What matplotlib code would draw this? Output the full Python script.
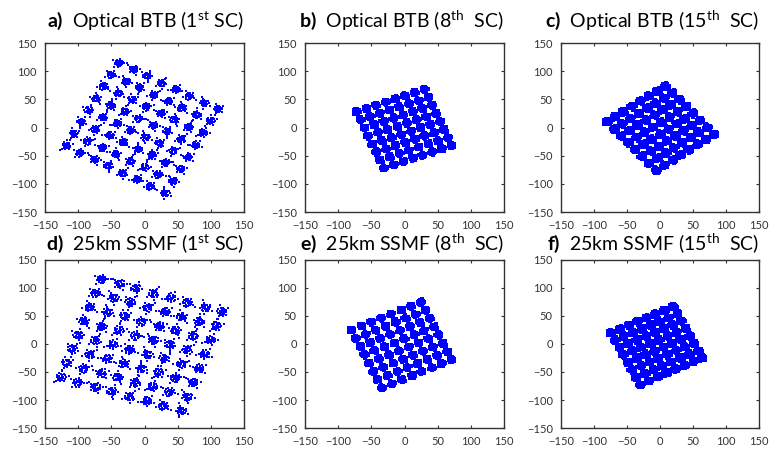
import numpy as np
import matplotlib
matplotlib.use("Agg")
import matplotlib.pyplot as plt

plt.rcParams['font.family'] = ['Lato', 'DejaVu Sans']
plt.rcParams['mathtext.fontset'] = 'custom'
plt.rcParams['mathtext.rm'] = 'Lato'
plt.rcParams['mathtext.bf'] = 'Lato:bold'

# --- panel labels / titles ---
tags = ['a)', 'b)', 'c)', 'd)', 'e)', 'f)']
links = ['Optical BTB', 'Optical BTB', 'Optical BTB',
         '25km SSMF', '25km SSMF', '25km SSMF']
sc_num = ['1', '8', '15', '1', '8', '15']
sc_sup = ['st', 'th', 'th', 'st', 'th', 'th']
sc_gap = [' ', '  ', '  ', ' ', '  ', '  ']

# --- 64-QAM constellation ---
qam_levels = [-7, -5, -3, -1, 1, 3, 5, 7]
# centres of the three outer corner clusters (left, top, right) per panel
left_corner = [(-118, -33), (-72, 28), (-80, 10), (-126, -60), (-80, 25), (-74, 20)]
top_corner = [(-38, 115), (30, 68), (8, 74), (-64, 116), (25, 75), (20, 67)]
right_corner = [(111, 32), (71, -32), (82, -12), (117, 57), (71, -28), (64, -25)]
cloud_radius = [5.8, 4.0, 4.6, 6.8, 4.0, 4.5]

# shape of one noise cloud (in units of cloud radius)
blob = [(0.0, 0.0), (0.5, 0.2), (-0.4, 0.5), (0.3, -0.6), (-0.7, -0.2),
        (0.8, 0.6), (-0.2, -0.9), (0.9, -0.3), (-0.9, 0.7), (0.1, 1.0),
        (0.6, -1.0), (-1.0, -0.8), (1.1, 0.1), (-0.5, 1.1), (0.2, 0.5),
        (-0.3, -0.4), (0.6, 0.9), (-0.8, 0.2), (0.4, -0.2), (-0.1, -0.5),
        (0.2, -0.2), (-0.5, -0.1), (0.3, 0.8), (-0.6, -0.6),
        (1.7, 0.5), (-1.5, -1.2), (0.2, 1.8)]

ticks = [-150, -100, -50, 0, 50, 100, 150]

W, H = 778, 449
fig = plt.figure(figsize=(W / 100, H / 100), dpi=100)

# axes boxes in pixels: left, top, right, bottom
boxes = [(45, 43, 244, 212), (305, 43, 504, 212), (561, 43, 759, 212),
         (45, 260, 244, 428), (305, 260, 504, 428), (561, 260, 759, 428)]

blob = np.array(blob)
for k in range(6):
    l, t, r, b = boxes[k]
    ax = fig.add_axes([l / W, 1 - b / H, (r - l) / W, (b - t) / H])

    L = np.array(left_corner[k], float)
    T = np.array(top_corner[k], float)
    R = np.array(right_corner[k], float)
    u = T - L
    w = R - T
    xs, ys = [], []
    n = 0
    for i in qam_levels:
        for j in qam_levels:
            c = L + (i + 7) / 14 * u + (j + 7) / 14 * w
            ang = 2.4 * n
            rot = np.array([[np.cos(ang), -np.sin(ang)], [np.sin(ang), np.cos(ang)]])
            pts = blob @ rot.T * cloud_radius[k] + c
            if k in (1, 2, 4, 5):
                pts = pts[:24]
            xs.extend(pts[:, 0])
            ys.extend(pts[:, 1])
            n += 1
    size = 4.5 if k in (0, 3) else 5
    ax.scatter(xs, ys, s=size, marker='s', color='#0000ff', linewidths=0)

    ax.set_xlim(-150, 150)
    ax.set_ylim(-150, 150)
    ax.set_xticks(ticks)
    ax.set_yticks(ticks)
    ax.tick_params(direction='in', length=2.5, width=0.8, top=True, right=True,
                   labelsize=8, labelcolor='#333333', color='#333333', pad=6)
    for sp in ax.spines.values():
        sp.set_color('#333333')
        sp.set_linewidth(1)

    title = (r"$\mathbf{" + tags[k] + "}$  " + links[k] + " (" + sc_num[k]
             + r"$^{\mathrm{" + sc_sup[k] + "}}$" + sc_gap[k] + "SC)")
    ty = 1.095 if k < 3 else 1.06
    ax.text(1.0, ty, title, transform=ax.transAxes, ha='right', va='baseline',
            fontsize=14, color='black')

fig.savefig("out.png", dpi=100)
